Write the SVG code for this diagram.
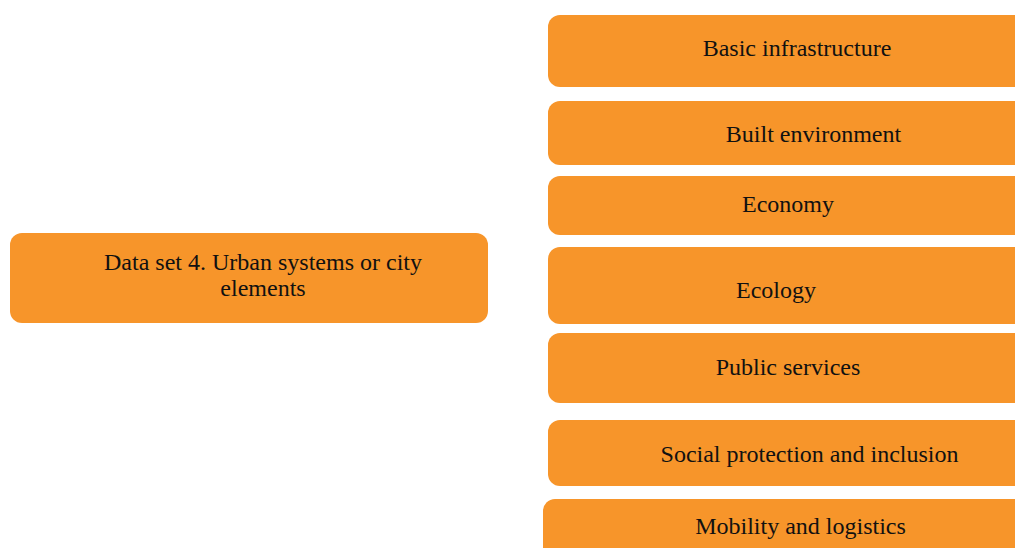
<svg xmlns="http://www.w3.org/2000/svg" width="1015" height="548" viewBox="0 0 1015 548">
<style>
.box{fill:#F7952A;}
.t{font-family:"Liberation Serif","Times New Roman",serif;font-size:24px;fill:#111;text-anchor:middle;}
</style>
<rect width="1015" height="548" fill="#fff"/>
<g id="main">
<rect class="box" x="10" y="233" width="478" height="90" rx="12"/>
<text class="t" x="263" y="270">Data set 4. Urban systems or city</text>
<text class="t" x="263" y="296">elements</text>
</g>
<g id="basic">
<rect class="box" x="548" y="15" width="490" height="72" rx="12"/>
<text class="t" x="797" y="56">Basic infrastructure</text>
</g>
<g id="built">
<rect class="box" x="548" y="101" width="490" height="64" rx="12"/>
<text class="t" x="813.5" y="142">Built environment</text>
</g>
<g id="economy">
<rect class="box" x="548" y="176" width="490" height="59" rx="12"/>
<text class="t" x="788" y="211.5">Economy</text>
</g>
<g id="ecology">
<rect class="box" x="548" y="247" width="490" height="77" rx="12"/>
<text class="t" x="776" y="297.5">Ecology</text>
</g>
<g id="public">
<rect class="box" x="548" y="333" width="490" height="70" rx="12"/>
<text class="t" x="788" y="375">Public services</text>
</g>
<g id="social">
<rect class="box" x="548" y="420" width="490" height="66" rx="12"/>
<text class="t" x="809.5" y="462">Social protection and inclusion</text>
</g>
<g id="mobility">
<rect class="box" x="543" y="499" width="495" height="70" rx="12"/>
<text class="t" x="800.5" y="534">Mobility and logistics</text>
</g>
<g id="connectors"></g>
</svg>
